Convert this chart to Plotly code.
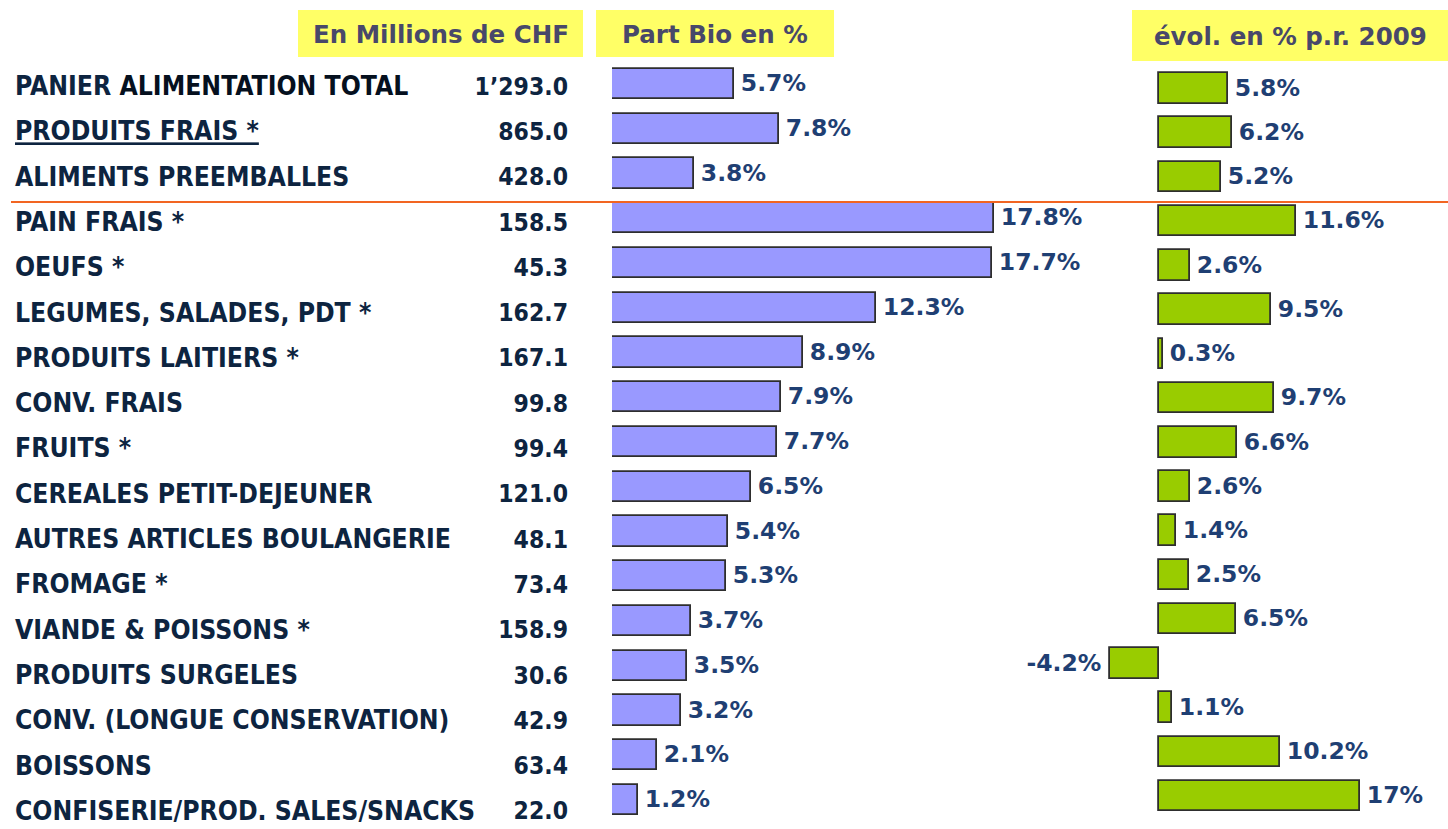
import plotly.graph_objects as go

# ---- data -----------------------------------------------------------------
categories = [
    "PANIER ALIMENTATION TOTAL",
    "PRODUITS FRAIS *",
    "ALIMENTS PREEMBALLES",
    "PAIN FRAIS *",
    "OEUFS *",
    "LEGUMES, SALADES, PDT *",
    "PRODUITS LAITIERS *",
    "CONV. FRAIS",
    "FRUITS *",
    "CEREALES PETIT-DEJEUNER",
    "AUTRES ARTICLES BOULANGERIE",
    "FROMAGE *",
    "VIANDE & POISSONS *",
    "PRODUITS SURGELES",
    "CONV. (LONGUE CONSERVATION)",
    "BOISSONS",
    "CONFISERIE/PROD. SALES/SNACKS",
]
sales_mchf = [1293.0, 865.0, 428.0, 158.5, 45.3, 162.7, 167.1, 99.8, 99.4,
              121.0, 48.1, 73.4, 158.9, 30.6, 42.9, 63.4, 22.0]
bio_share_pct = [5.7, 7.8, 3.8, 17.8, 17.7, 12.3, 8.9, 7.9, 7.7,
                 6.5, 5.4, 5.3, 3.7, 3.5, 3.2, 2.1, 1.2]
growth_vs_2009_pct = [5.8, 6.2, 5.2, 11.6, 2.6, 9.5, 0.3, 9.7, 6.6,
                      2.6, 1.4, 2.5, 6.5, -4.2, 1.1, 10.2, 17]
headers = ["En Millions de CHF", "Part Bio en %", "évol. en % p.r. 2009"]

# ---- canvas / styling -----------------------------------------------------
W, H = 1448, 829
LABEL_FONT = "DejaVu Sans Condensed, Liberation Sans Narrow, DejaVu Sans, sans-serif"
VALUE_FONT = "DejaVu Sans, Verdana, sans-serif"
NAVY = "#0d2440"
LABEL_BLUE = "#1f3f73"
HEADER_GREY = "#48486a"
PURPLE = "#9999ff"
GREEN = "#99cc00"
OUTLINE = "#2e2e2e"
THIN = "\u2009"


def px(x):
    return x / W


def py(y):
    return 1 - y / H


n = len(categories)


def fmt_pct(v):
    # small gap between bar end and its label, on the outer side
    return f"{THIN}{v:g}%" if v >= 0 else f"{v:g}%{THIN}"


def fmt_mchf(v):
    return f"{v:,.1f}".replace(",", "\u2019")


label_text = list(categories)
label_text[0] = categories[0].replace(
    "ALIMENTATION TOTAL", "<span style='color:#05101e'>ALIMENTATION TOTAL</span>")
label_text[1] = f"<u>{categories[1]}</u>"

fig = go.Figure()

# Part Bio bars
fig.add_trace(go.Bar(
    y=categories, x=bio_share_pct, orientation="h",
    xaxis="x", yaxis="y", width=0.68,
    marker=dict(color=PURPLE, line=dict(color=OUTLINE, width=1.8)),
    text=[fmt_pct(v) for v in bio_share_pct], textposition="outside",
    constraintext="none", cliponaxis=False,
    textfont=dict(family=VALUE_FONT, size=23.5, color=LABEL_BLUE, weight=700),
    hoverinfo="skip",
))

# Evolution bars
fig.add_trace(go.Bar(
    y=categories, x=growth_vs_2009_pct, orientation="h",
    xaxis="x2", yaxis="y2", width=0.69,
    marker=dict(color=GREEN, line=dict(color=OUTLINE, width=1.8)),
    text=[fmt_pct(v) for v in growth_vs_2009_pct], textposition="outside",
    constraintext="none", cliponaxis=False,
    textfont=dict(family=VALUE_FONT, size=23.5, color=LABEL_BLUE, weight=700),
    hoverinfo="skip",
))

# Category names (left column)
fig.add_trace(go.Scatter(
    x=[15] * n, y=list(range(n)), mode="text", text=label_text,
    textposition="middle right", xaxis="x3", yaxis="y3", cliponaxis=False,
    textfont=dict(family=LABEL_FONT, size=26.3, color=NAVY, weight=700),
    hoverinfo="skip",
))

# Sales in millions CHF (right-aligned column)
fig.add_trace(go.Scatter(
    x=[568] * n, y=list(range(n)), mode="text",
    text=[fmt_mchf(v) for v in sales_mchf],
    textposition="middle left", xaxis="x3", yaxis="y3", cliponaxis=False,
    textfont=dict(family=LABEL_FONT, size=24.5, color=NAVY, weight=700),
    hoverinfo="skip",
))

# Row geometry (pixel centre of first row, spacing between rows)
bio_top, bio_step = 84.0, 44.75
evo_top, evo_step = 88.5, 44.22
lab_top, lab_step = 88.5, 45.3


def row_range(top, step):
    return [(H - top) / step, -top / step]


bio_px_per_pct = 21.45
evo_zero_px, evo_px_per_pct = 1159.3, 11.8
bio_x0, bio_x1 = 612, 1100
evo_x0, evo_x1 = 1100, W

hidden = dict(visible=False, showgrid=False, zeroline=False, fixedrange=True)

fig.update_layout(
    width=W, height=H, autosize=False,
    margin=dict(l=0, r=0, t=0, b=0, pad=0),
    paper_bgcolor="white", plot_bgcolor="rgba(0,0,0,0)",
    showlegend=False, bargap=0,
    xaxis=dict(domain=[px(bio_x0), px(bio_x1)],
               range=[0, (bio_x1 - bio_x0) / bio_px_per_pct], anchor="y", **hidden),
    yaxis=dict(domain=[0, 1], range=row_range(bio_top, bio_step),
               type="category", anchor="x", **hidden),
    xaxis2=dict(domain=[px(evo_x0), px(evo_x1)],
                range=[-(evo_zero_px - evo_x0) / evo_px_per_pct,
                       (evo_x1 - evo_zero_px) / evo_px_per_pct],
                anchor="y2", **hidden),
    yaxis2=dict(domain=[0, 1], range=row_range(evo_top, evo_step),
                type="category", anchor="x2", **hidden),
    xaxis3=dict(domain=[0, 1], range=[0, W], anchor="y3", **hidden),
    yaxis3=dict(domain=[0, 1], range=row_range(lab_top, lab_step),
                anchor="x3", **hidden),
)

# Header boxes
header_boxes = [(298, 583, 10, 57), (596, 834, 10, 57), (1132, 1448, 10, 61)]
for (x0, x1, y0, y1), title in zip(header_boxes, headers):
    fig.add_shape(type="rect", xref="paper", yref="paper",
                  x0=px(x0), x1=px(x1), y0=py(y1), y1=py(y0),
                  fillcolor="#ffff66", line=dict(width=0), layer="below")
    fig.add_annotation(xref="paper", yref="paper",
                       x=px((x0 + x1) / 2), y=py((y0 + y1) / 2 + 1),
                       text=title, showarrow=False,
                       xanchor="center", yanchor="middle",
                       font=dict(family=VALUE_FONT, size=24.5, color=HEADER_GREY, weight=700))

# Separator between totals and product groups
fig.add_shape(type="line", xref="paper", yref="paper",
              x0=px(11), x1=1, y0=py(202), y1=py(202),
              line=dict(color="#f26522", width=2))

fig.write_html("out.html")
